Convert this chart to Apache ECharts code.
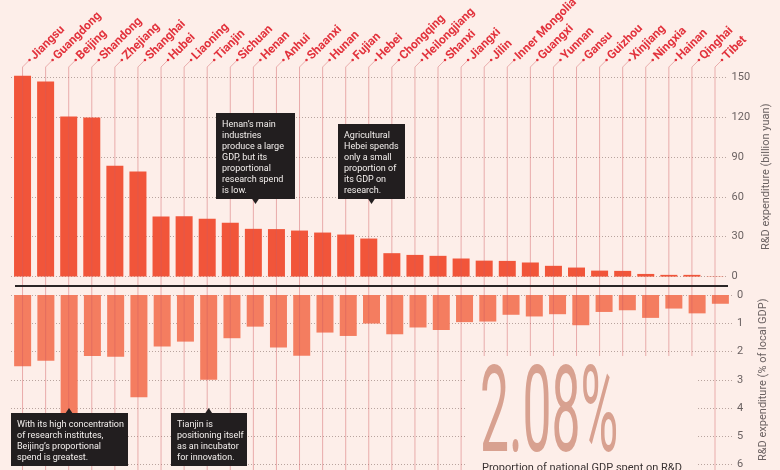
<!DOCTYPE html>
<html>
<head>
<meta charset="utf-8">
<script src="https://cdn.jsdelivr.net/npm/echarts@6/dist/echarts.min.js"></script>
<style>
  html, body { margin: 0; padding: 0; background: #fdeee9; }
  #chart { width: 780px; height: 470px; }
</style>
</head>
<body>
<div id="chart"></div>
<script>
// provinces, ordered by R&D spend
const provinces = [
  'Jiangsu', 'Guangdong', 'Beijing', 'Shandong', 'Zhejiang', 'Shanghai', 'Hubei', 'Liaoning',
  'Tianjin', 'Sichuan', 'Henan', 'Anhui', 'Shaanxi', 'Hunan', 'Fujian', 'Hebei',
  'Chongqing', 'Heilongjiang', 'Shanxi', 'Jiangxi', 'Jilin', 'Inner Mongolia', 'Guangxi', 'Yunnan',
  'Gansu', 'Guizhou', 'Xinjiang', 'Ningxia', 'Hainan', 'Qinghai', 'Tibet'
]

// R&D expenditure (billion yuan)
const spend = [
  151.0, 146.7, 120.4, 119.6, 83.3, 79.0, 45.1, 45.4,
  43.4, 40.4, 35.9, 35.7, 34.6, 33.1, 31.6, 28.6,
  17.6, 16.3, 15.6, 13.6, 12.0, 11.8, 10.6, 8.1,
  6.8, 4.5, 4.3, 2.0, 1.3, 1.3, 0.2
]

// R&D expenditure (% of local GDP)
const share = [
  2.52, 2.33, 5.95, 2.16, 2.19, 3.62, 1.82, 1.65,
  3.0, 1.53, 1.12, 1.86, 2.15, 1.33, 1.45, 1.01,
  1.39, 1.15, 1.24, 0.96, 0.94, 0.70, 0.76, 0.68,
  1.07, 0.60, 0.54, 0.81, 0.48, 0.65, 0.31
]

const spendTicks = { min: 0, max: 150, interval: 30 }
const shareTicks = { min: 0, max: 6, interval: 1 }
const nationalShare = '2.08%'

const bg = '#fdeee9'
const red = '#e2323c'
const gridLine = { type: [1, 2], color: '#b8a49e', width: 1 }
const axisText = { color: '#6b6262', fontSize: 11, fontFamily: 'Roboto' }

const chart = echarts.init(document.getElementById('chart'))

// black annotation box with a little pointer
const noteBox = (x, y, w, h, px, up, lines) => {
  const tri = up
    ? [[px - 4, y + 1], [px + 4, y + 1], [px, y - 5]]
    : [[px - 4, y + h - 1], [px + 4, y + h - 1], [px, y + h + 5]]
  return [
    { type: 'rect', z: 20, shape: { x: x, y: y, width: w, height: h }, style: { fill: '#221e1f' } },
    { type: 'polygon', z: 20, shape: { points: tri }, style: { fill: '#221e1f' } },
    {
      type: 'text', z: 21, x: x + 6, y: y + 6,
      style: {
        text: lines.join('\n'), fill: '#f4f0ee', font: '9px Roboto',
        lineHeight: 11, textAlign: 'left', textVerticalAlign: 'top'
      }
    }
  ]
}

const option = {
  backgroundColor: bg,
  animation: false,
  grid: [
    { left: 11, right: 48, top: 77, height: 199.6 },
    { left: 11, right: 48, top: 295, height: 177 }
  ],
  xAxis: [
    { type: 'category', gridIndex: 0, data: provinces, show: false },
    { type: 'category', gridIndex: 1, data: provinces, show: false }
  ],
  yAxis: [
    {
      type: 'value', gridIndex: 0, position: 'right', ...spendTicks,
      axisLine: { show: false }, axisTick: { show: false },
      axisLabel: { ...axisText, margin: 5 },
      splitLine: { lineStyle: gridLine },
      name: 'R&D expenditure (billion yuan)', nameLocation: 'middle', nameRotate: 90,
      nameGap: 34, nameTextStyle: axisText
    },
    {
      type: 'value', gridIndex: 1, position: 'right', inverse: true, ...shareTicks,
      axisLine: { show: false }, axisTick: { show: false },
      axisLabel: { ...axisText, margin: 5 },
      splitLine: { lineStyle: gridLine },
      name: 'R&D expenditure (% of local GDP)', nameLocation: 'middle', nameRotate: 90,
      nameGap: 26, nameTextStyle: axisText
    }
  ],
  series: [
    {
      type: 'bar', xAxisIndex: 0, yAxisIndex: 0, data: spend,
      barWidth: 17, clip: false, itemStyle: { color: '#f1553a' }, z: 2
    },
    {
      type: 'bar', xAxisIndex: 1, yAxisIndex: 1, data: share,
      barWidth: 17, clip: false, itemStyle: { color: '#f47d60' }, z: 2
    },
    {
      // leader lines and province names
      type: 'custom', xAxisIndex: 0, yAxisIndex: 0, z: 3, silent: true,
      data: provinces.map((p, i) => [i, 0]),
      renderItem: (params, api) => {
        const x = api.coord([api.value(0), 0])[0]
        return {
          type: 'group',
          children: [
            {
              type: 'polyline',
              shape: { points: [[x, 470], [x, 67], [x + 7, 60]] },
              style: { stroke: 'rgba(208, 92, 96, 0.45)', lineWidth: 1, fill: null }
            },
            {
              type: 'circle', shape: { cx: x + 7, cy: 60, r: 1.3 },
              style: { fill: red }
            },
            {
              type: 'text', x: x + 10, y: 58, rotation: Math.PI / 4,
              style: {
                text: provinces[params.dataIndex], fill: red,
                font: 'bold 12px Roboto', textAlign: 'left', textVerticalAlign: 'middle'
              }
            }
          ]
        }
      }
    }
  ],
  graphic: [
    {
      type: 'line', z: 10,
      shape: { x1: 15, y1: 286, x2: 728, y2: 286 },
      style: { stroke: '#2b2626', lineWidth: 2 }
    },
    {
      type: 'rect', z: 10,
      shape: { x: 465, y: 356, width: 233, height: 120 },
      style: { fill: bg }
    },
    {
      type: 'text', z: 11, x: 480, y: 421, scaleX: 0.43,
      style: {
        text: nationalShare, fill: '#d8a190', font: '400 120px Roboto',
        textAlign: 'left', textVerticalAlign: 'middle'
      }
    },
    {
      type: 'text', z: 11, x: 482, y: 463,
      style: {
        text: 'Proportion of national GDP spent on R&D', fill: '#3a3333',
        font: '11px Roboto', textAlign: 'left', textVerticalAlign: 'top'
      }
    },
    ...noteBox(216, 113, 79, 86, 255.5, false, [
      'Henan\u2019s main', 'industries', 'produce a large', 'GDP, but its',
      'proportional', 'research spend', 'is low.'
    ]),
    ...noteBox(338, 124, 67, 75, 371.5, false, [
      'Agricultural', 'Hebei spends', 'only a small', 'proportion of', 'its GDP on', 'research.'
    ]),
    ...noteBox(11, 413, 117, 53, 69, true, [
      'With its high concentration', 'of research institutes,',
      'Beijing\u2019s proportional', 'spend is greatest.'
    ]),
    ...noteBox(171, 413, 76, 53, 208.7, true, [
      'Tianjin is', 'positioning itself', 'as an incubator', 'for innovation.'
    ])
  ]
}

chart.setOption(option)
</script>
</body>
</html>
